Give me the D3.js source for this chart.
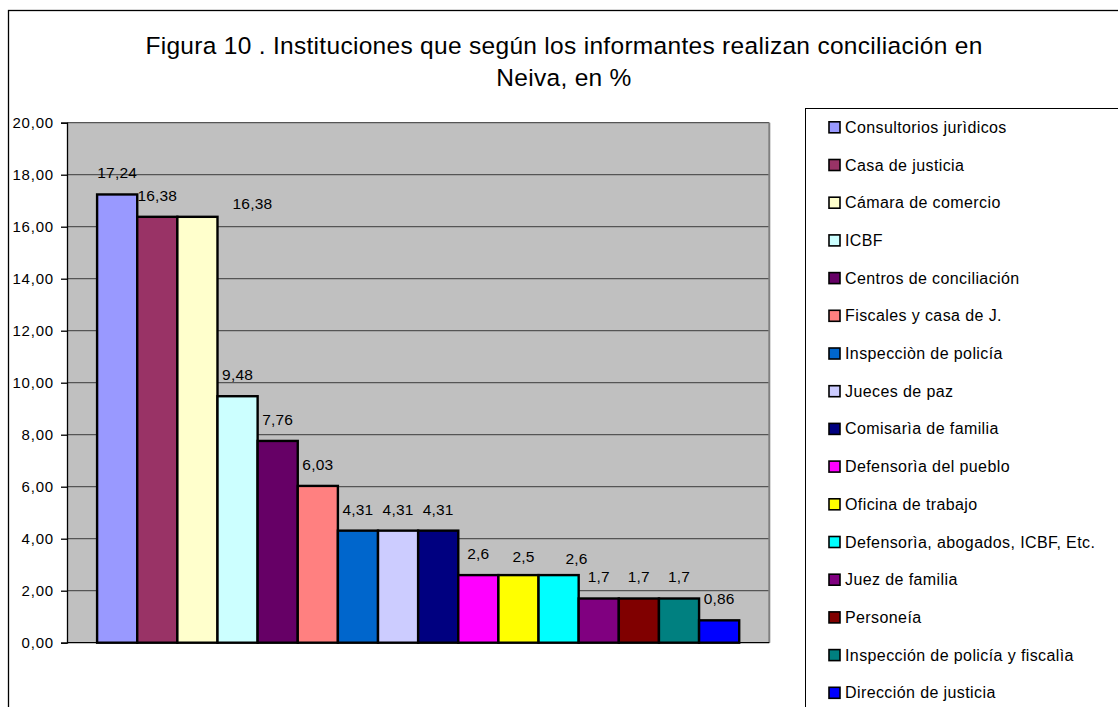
<!DOCTYPE html>
<html>
<head>
<meta charset="utf-8">
<script src="https://cdn.jsdelivr.net/npm/d3@7"></script>
<style>
	body{margin:0;background:#fff;font-family:"Liberation Sans",Arial,sans-serif;}
</style>
</head>
<body>
<div id="chart_area"></div>
<script>
// data
const institutions=["Consultorios jurìdicos","Casa de justicia","Cámara de comercio","ICBF",
	"Centros de conciliación","Fiscales y casa de J.","Inspecciòn de policía","Jueces de paz",
	"Comisarìa de familia","Defensorìa del pueblo","Oficina de trabajo",
	"Defensorìa, abogados, ICBF, Etc.","Juez de familia","Personeía",
	"Inspección de policía y fiscalìa","Dirección de justicia"];
const percents=[17.24,16.38,16.38,9.48,7.76,6.03,4.31,4.31,4.31,2.6,2.6,2.6,1.7,1.7,1.7,0.86];
const valueLabels=["17,24","16,38","16,38","9,48","7,76","6,03","4,31","4,31","4,31","2,6","2,5","2,6","1,7","1,7","1,7","0,86"];
const yTicks=[0,2,4,6,8,10,12,14,16,18,20];
const barColors=["#9999FF","#993366","#FFFFCC","#CCFFFF","#660066","#FF8080","#0066CC","#CCCCFF",
	"#000080","#FF00FF","#FFFF00","#00FFFF","#800080","#800000","#008080","#0000FF"];
const titleLines=["Figura 10 . Instituciones que según los informantes realizan conciliación en","Neiva, en %"];

// some labels were dragged by hand in the original
const labelNudge={2:[55,8],10:[5,3],11:[18,5]};

function drawChart(){
	let W=1118,H=707;
	let margin={top:122.7,left:67,right:1118-769.3,bottom:707-642.7},
	    width=W-margin.left-margin.right,
	    height=H-margin.top-margin.bottom;

	let svg=d3.select("#chart_area")
	  .append("svg")
	    .attr("width",W)
	    .attr("height",H);

	// outer chart border
	svg.append("rect")
	  .attr("x",8.5).attr("y",10.5)
	  .attr("width",W+20).attr("height",H+20)
	  .attr("fill","#fff").attr("stroke","#000").attr("stroke-width",1.3);

	// title
	svg.append("g").selectAll("text")
	  .data(titleLines)
	  .enter()
	  .append("text")
	    .attr("x",564)
	    .attr("y",(d,i)=>54+i*32)
	    .attr("text-anchor","middle")
	    .attr("font-size",24.5)
	    .attr("letter-spacing",0.3)
	    .attr("fill","#000")
	    .text(d=>d);

	let g=svg.append("g")
	  .attr("transform","translate("+margin.left+","+margin.top+")");

	let x=d3.scaleBand()
	  .domain(institutions)
	  .range([0,width])
	  .paddingInner(0)
	  .paddingOuter(0.75);

	let y=d3.scaleLinear()
	  .domain([0,20])
	  .range([height,0]);

	// plot background
	g.append("rect")
	  .attr("width",width).attr("height",height)
	  .attr("fill","#C0C0C0");

	// gridlines
	g.append("g")
	  .selectAll("line")
	  .data(yTicks.filter(d=>d>0))
	  .enter()
	  .append("line")
	    .attr("x1",0).attr("x2",width)
	    .attr("y1",d=>y(d)).attr("y2",d=>y(d))
	    .attr("stroke","#555").attr("stroke-width",1.3);

	// right border of plot area
	g.append("line")
	  .attr("x1",width).attr("x2",width)
	  .attr("y1",0).attr("y2",height)
	  .attr("stroke","#808080").attr("stroke-width",2);

	// y axis
	let yAxis=g.append("g")
	  .call(d3.axisLeft(y)
	    .tickValues(yTicks)
	    .tickSize(6)
	    .tickPadding(7)
	    .tickFormat(d=>d3.format(".2f")(d).replace(".",",")));
	yAxis.select(".domain").attr("stroke","#000").attr("stroke-width",1.3);
	yAxis.selectAll(".tick line").attr("stroke","#000").attr("stroke-width",1.3);
	yAxis.selectAll(".tick text")
	  .attr("font-family","Liberation Sans, Arial, sans-serif")
	  .attr("font-size",15)
	  .attr("letter-spacing",0.8)
	  .attr("fill","#000");

	// bars
	g.append("g")
	  .selectAll("rect")
	  .data(percents)
	  .enter()
	  .append("rect")
	    .attr("x",(d,i)=>x(institutions[i]))
	    .attr("y",d=>y(d))
	    .attr("width",x.bandwidth())
	    .attr("height",d=>height-y(d))
	    .attr("fill",(d,i)=>barColors[i])
	    .attr("stroke","#000")
	    .attr("stroke-width",2.4);

	// x axis line
	g.append("line")
	  .attr("x1",0).attr("x2",width)
	  .attr("y1",height).attr("y2",height)
	  .attr("stroke","#000").attr("stroke-width",1.3);

	// value labels
	g.append("g")
	  .selectAll("text")
	  .data(percents)
	  .enter()
	  .append("text")
	    .attr("x",(d,i)=>x(institutions[i])+x.bandwidth()/2+(labelNudge[i]?labelNudge[i][0]:0))
	    .attr("y",(d,i)=>y(d)-16+(labelNudge[i]?labelNudge[i][1]:0))
	    .attr("text-anchor","middle")
	    .attr("font-size",15.5)
	    .attr("letter-spacing",0.2)
	    .attr("fill","#000")
	    .text((d,i)=>valueLabels[i]);

	// legend
	let lg=svg.append("g");
	lg.append("rect")
	  .attr("x",805.5).attr("y",108.5)
	  .attr("width",400).attr("height",700)
	  .attr("fill","#fff").attr("stroke","#000").attr("stroke-width",1);

	let items=lg.selectAll("g.item")
	  .data(institutions)
	  .enter()
	  .append("g")
	    .attr("class","item")
	    .attr("transform",(d,i)=>"translate(829,"+(127.3+i*37.7)+")");
	items.append("rect")
	  .attr("x",0).attr("y",-5.5)
	  .attr("width",11).attr("height",11)
	  .attr("fill",(d,i)=>barColors[i])
	  .attr("stroke","#000").attr("stroke-width",1.6);
	items.append("text")
	  .attr("x",16).attr("y",5.5)
	  .attr("font-size",16)
	  .attr("letter-spacing",0.4)
	  .attr("fill","#000")
	  .text(d=>d);
}

drawChart();
</script>
</body>
</html>
